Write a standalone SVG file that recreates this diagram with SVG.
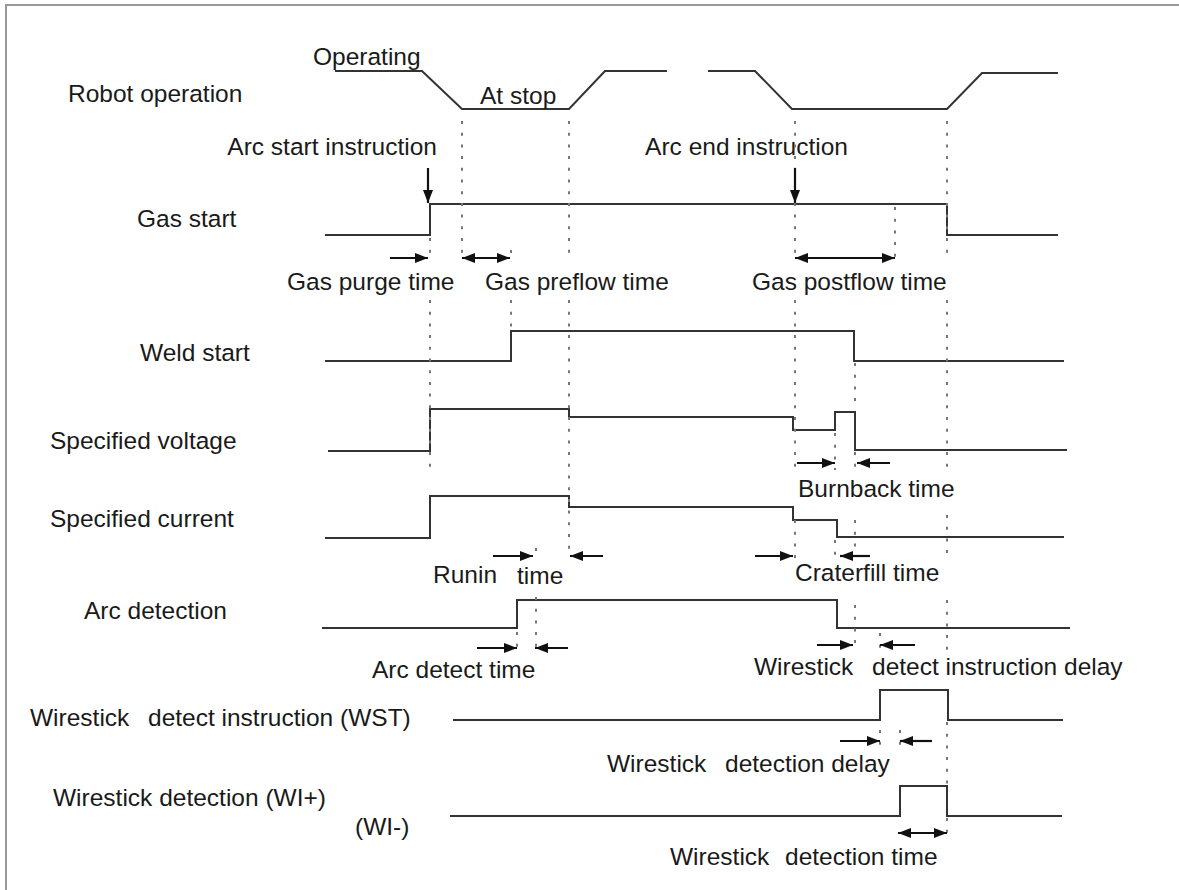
<svg xmlns="http://www.w3.org/2000/svg" width="1179" height="890" viewBox="0 0 1179 890">
<style>
text{font-family:"Liberation Sans",Arial,Helvetica,sans-serif;font-size:24.5px;fill:#1a1a1a}
.sig{fill:none;stroke:#333;stroke-width:2}
.dot{fill:none;stroke:#777;stroke-width:2;stroke-dasharray:3 8.7}
.arr{fill:none;stroke:#111;stroke-width:2.2}
</style>
<defs>
<marker id="ah" markerUnits="userSpaceOnUse" markerWidth="13" markerHeight="10" refX="13" refY="5" orient="auto-start-reverse">
<path d="M0,0 L13,5 L0,10 z" fill="#111"/>
</marker>
</defs>
<rect x="6" y="5" width="1190" height="900" fill="#fff" stroke="#999" stroke-width="2"/>

<g id="labels">
<text x="68" y="102">Robot operation</text>
<text x="137" y="227">Gas start</text>
<text x="140" y="361">Weld start</text>
<text x="50" y="449">Specified voltage</text>
<text x="50" y="527">Specified current</text>
<text x="84" y="619">Arc detection</text>
<text y="726"><tspan x="30">Wirestick</tspan><tspan x="148">detect instruction (WST)</tspan></text>
<text x="53" y="806">Wirestick detection (WI+)</text>
<text x="355" y="835">(WI-)</text>
</g>

<g id="robot-operation">
<path class="sig" d="M335,71 H422 L462,109 H569 L605,71 H667"/>
<path class="sig" d="M708,71 H755 L792,109 H947 L982,73 H1058"/>
<text x="313" y="65">Operating</text>
<text x="480" y="104">At stop</text>
</g>

<g id="gas-start">
<path class="sig" d="M325,235 H430 V204 H947 V235 H1058"/>
<text x="437" y="155" text-anchor="end">Arc start instruction</text>
<text x="848" y="155" text-anchor="end">Arc end instruction</text>
<text x="287" y="290">Gas purge time</text>
<text x="485" y="290">Gas preflow time</text>
<text x="752" y="290">Gas postflow time</text>
</g>

<g id="weld-start">
<path class="sig" d="M325,361 H511 V331 H854 V361 H1064"/>
</g>

<g id="specified-voltage">
<path class="sig" d="M328,451 H430 V409 H569 V417 H793 V430 H835 V412 H855 V450 H1067"/>
<text x="798" y="497">Burnback time</text>
</g>

<g id="specified-current">
<path class="sig" d="M325,538 H430 V496 H569 V507 H793 V520 H837 V537 H1064"/>
<text x="433" y="583">Runin</text>
<text x="517" y="584">time</text>
<text x="795" y="581">Craterfill time</text>
</g>

<g id="arc-detection">
<path class="sig" d="M322,628 H517 V600 H837 V628 H1070"/>
<text x="372" y="678">Arc detect time</text>
<text y="675"><tspan x="754">Wirestick</tspan><tspan x="872">detect instruction delay</tspan></text>
</g>

<g id="wst">
<path class="sig" d="M453,720 H880 V690 H948 V720 H1063"/>
<text y="772"><tspan x="607">Wirestick</tspan><tspan x="725">detection delay</tspan></text>
</g>

<g id="wi">
<path class="sig" d="M450,816 H900 V786 H947 V816 H1062"/>
<text y="865"><tspan x="670">Wirestick</tspan><tspan x="785">detection time</tspan></text>
</g>

<g id="connectors">
<!-- dotted guide lines -->
<path class="dot" d="M430,238 V258 M430,300 V470"/>
<path class="dot" d="M462,121 V258"/>
<path class="dot" d="M511,250 V262 M511,300 V330"/>
<path class="dot" d="M569,121 V258 M569,300 V555"/>
<path class="dot" d="M536,548 V553 M536,597 V650"/>
<path class="dot" d="M517,632 V650"/>
<path class="dot" d="M795,121 V258 M795,300 V470 M795,520 V560"/>
<path class="dot" d="M895,207 V258"/>
<path class="dot" d="M947,121 V258 M947,300 V470 M947,515 V557 M947,600 V650 M947,722 V786 M947,818 V840"/>
<path class="dot" d="M835,433 V470 M835,540 V560"/>
<path class="dot" d="M855,363 V403 M855,452 V470 M855,520 V557 M855,605 V650"/>
<path class="dot" d="M880,633 V650 M880,730 V745"/>
<path class="dot" d="M900,730 V745"/>
<!-- instruction arrows -->
<path class="arr" d="M428,168 V203" marker-end="url(#ah)"/>
<path class="arr" d="M795,168 V203" marker-end="url(#ah)"/>
<!-- single arrows -->
<path class="arr" d="M390,258 H428" marker-end="url(#ah)"/>
<path class="arr" d="M493,556 H533" marker-end="url(#ah)"/>
<path class="arr" d="M603,556 H570" marker-end="url(#ah)"/>
<path class="arr" d="M755,556 H793" marker-end="url(#ah)"/>
<path class="arr" d="M870,556 H840" marker-end="url(#ah)"/>
<path class="arr" d="M797,463 H835" marker-end="url(#ah)"/>
<path class="arr" d="M890,463 H857" marker-end="url(#ah)"/>
<path class="arr" d="M477,648 H517" marker-end="url(#ah)"/>
<path class="arr" d="M568,648 H535" marker-end="url(#ah)"/>
<path class="arr" d="M817,645 H853" marker-end="url(#ah)"/>
<path class="arr" d="M915,645 H880" marker-end="url(#ah)"/>
<path class="arr" d="M840,741 H880" marker-end="url(#ah)"/>
<path class="arr" d="M932,741 H900" marker-end="url(#ah)"/>
<!-- double arrows -->
<path class="arr" d="M462,258 H510" marker-start="url(#ah)" marker-end="url(#ah)"/>
<path class="arr" d="M795,258 H895" marker-start="url(#ah)" marker-end="url(#ah)"/>
<path class="arr" d="M898,833 H947" marker-start="url(#ah)" marker-end="url(#ah)"/>
</g>
</svg>
